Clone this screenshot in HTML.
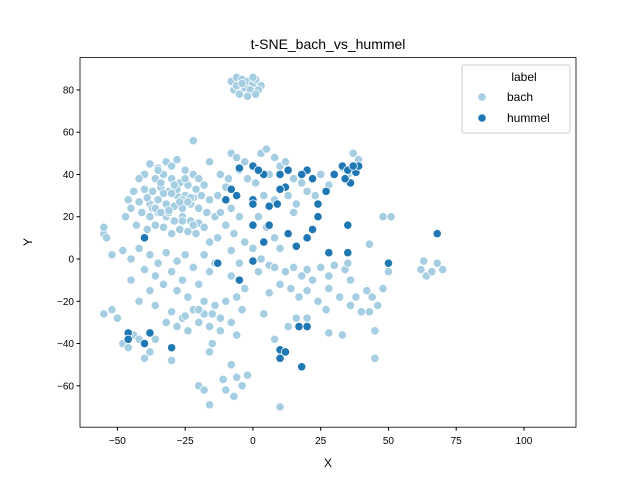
<!DOCTYPE html>
<html><head><meta charset="utf-8"><style>
body{margin:0;background:#fff}
svg{font-family:"Liberation Sans","DejaVu Sans",sans-serif}
</style></head><body>
<svg id="chart" width="640" height="480" xmlns="http://www.w3.org/2000/svg">
<rect width="640" height="480" fill="#fff"/>
<text x="328" y="49" font-size="14" text-anchor="middle">t-SNE_bach_vs_hummel</text>
<g id="points"></g>
<rect x="80" y="57.6" width="496" height="369.6" fill="none" stroke="#000" stroke-width="0.8"/>
<g id="xt"></g>
<g id="yt"></g>
<text x="328" y="467" font-size="12" text-anchor="middle">X</text>
<text x="32" y="242" font-size="12" text-anchor="middle" transform="rotate(-90 32 242)">Y</text>
<g>
<rect x="462" y="65" width="108" height="68" rx="2" fill="#fff" fill-opacity="0.8" stroke="#ccc"/>
<text x="524" y="81" font-size="12" text-anchor="middle">label</text>
<circle cx="482" cy="97" r="4.2" fill="#a6cee3" stroke="#fff" stroke-width="0.8"/>
<text x="507" y="101" font-size="12">bach</text>
<circle cx="482" cy="118" r="4.2" fill="#1f78b4" stroke="#fff" stroke-width="0.8"/>
<text x="507" y="122" font-size="12">hummel</text>
</g>
</svg>
<script>
const xTicks=[-50,-25,0,25,50,75,100];
const yTicks=[-60,-40,-20,0,20,40,60,80];
const bachX=[-8,-6,-4,-2,0,1,3,-7,-5,-3,-1,2,-6,-4,0,-2,1,
-38,-35,-32,-30,-28,-25,-22,-20,-18,-16,-40,-42,-36,-33,-30,-27,-24,-21,-44,-40,-37,-34,-31,-28,-25,-22,-19,-16,-13,-10,-46,-42,-38,-35,-32,-29,-26,-23,-20,-17,-14,-45,-41,-38,-35,-32,-29,-26,-23,-20,-47,-43,-39,-36,-33,-30,-27,-24,-21,-18,-55,-54,-55,-12,-8,-5,-10,-7,-13,-16,-22,-8,-6,-3,0,-12,-9,-5,-2,1,
3,5,8,10,12,6,15,18,20,4,8,13,16,2,5,8,10,0,3,-3,-8,-5,2,6,
-52,-48,-45,-42,-38,-35,-32,-28,-25,-22,-40,-36,-30,-26,-45,-38,-33,-28,-24,-20,-16,-14,-18,-42,-36,-30,-26,-22,-18,-14,-10,-6,-3,-8,-4,-32,-28,-24,-20,-16,-12,-8,-6,-55,-52,-50,-48,-46,-44,-42,-38,-36,-40,-30,-16,-15,-20,-18,-16,-8,-6,-4,-10,-7,-2,-11,10,
8,12,15,18,20,22,25,28,30,34,36,10,14,17,20,24,28,32,6,4,13,16,20,27,28,33,36,38,42,44,46,48,45,45,40,43,8,35,
43,48,51,50,37,39,33,35,23,15,25,28,62,64,66,68,70,63,
-34,-29,-26,-37,-31,-27,-23,-33,-28,-36,-30,-24,-34,-26,-39,-31,-22,-29,-25,-35,-20,-15,-12,-25,-18];
const bachY=[84,86,85,84,83,85,82,80,78,81,80,80,82,83,86,77,78,
45,43,46,44,47,42,40,38,35,46,40,38,38,40,38,36,35,33,32,33,32,34,32,30,30,29,30,28,30,34,28,27,26,28,26,25,24,26,24,22,20,24,22,20,22,20,18,20,18,17,20,16,14,16,15,12,14,13,12,15,12,10,15,22,24,20,16,12,10,8,56,50,48,46,44,40,38,42,38,36,
50,52,48,44,46,40,38,36,32,30,28,30,26,20,15,10,5,5,0,8,4,-2,-6,-3,
2,4,0,5,2,-2,3,-1,2,-4,-5,-8,-6,-10,-10,-15,-12,-15,-18,-12,-6,-2,2,-20,-22,-25,-28,-24,-26,-22,-20,-18,-14,-8,-24,-30,-32,-34,-30,-32,-28,-30,-36,-26,-24,-28,-40,-42,-36,-38,-44,-38,-47,-48,-44,-40,-60,-62,-69,-50,-56,-60,-62,-65,-55,-57,-70,
-4,-6,-4,-8,-5,-10,-4,-8,-3,-5,-10,-12,-14,-18,-15,-20,-14,-18,-16,-26,-32,-28,-28,-24,-35,-36,-22,-18,-15,-18,-22,-14,-34,-47,-25,-25,-38,-2,
7,20,20,-6,50,47,43,40,30,22,40,35,-5,-8,-6,-2,-5,-1,
36,34,28,24,22,27,29,31,33,24,31,27,22,18,29,23,16,35,38,42,-24,-26,-34,-27,-20];
const humX=[-5,0,4,2,-8,-10,-6,10,13,12,6,9,0,0,0,20,22,18,27,24,24,22,20,16,13,28,35,35,33,35,36,38,39,37,34,-40,-46,-46,-40,-30,-38,-5,0,4,6,68,50,17,10,12,10,18,20,10,30,-13];
const humY=[43,44,40,42,33,28,30,40,42,34,25,26,28,26,16,42,38,40,32,26,20,14,10,6,12,3,16,3,44,42,36,41,44,44,38,10,-35,-38,-40,-42,-35,-10,-1,8,16,12,-2,-32,-43,-44,-47,-51,-32,33,40,-2];
const L=80,R=576,T=57.6,B=427.2,xmin=-63.8,xmax=119.2,ymin=-79.6,ymax=95.3;
const sx=v=>L+(v-xmin)/(xmax-xmin)*(R-L);
const sy=v=>B-(v-ymin)/(ymax-ymin)*(B-T);
const NS="http://www.w3.org/2000/svg";
const pts=document.getElementById('points');
function dot(x,y,c,n){const e=document.createElementNS(NS,'circle');
e.setAttribute('cx',sx(x));e.setAttribute('cy',sy(y));e.setAttribute('r',4.2);
e.setAttribute('fill',c);e.setAttribute('stroke','#fff');e.setAttribute('stroke-width','0.8');


pts.appendChild(e);}
bachX.forEach((x,i)=>dot(x,bachY[i],'#a6cee3','point-bach'));
humX.forEach((x,i)=>dot(x,humY[i],'#1f78b4','point-hummel'));
const xt=document.getElementById('xt'),yt=document.getElementById('yt');
xTicks.forEach(v=>{const x=sx(v);
const l=document.createElementNS(NS,'line');l.setAttribute('x1',x);l.setAttribute('x2',x);l.setAttribute('y1',B);l.setAttribute('y2',B+3.5);l.setAttribute('stroke','#000');


xt.appendChild(l);
const t=document.createElementNS(NS,'text');t.setAttribute('x',x);t.setAttribute('y',B+17);t.setAttribute('font-size','10');t.setAttribute('text-anchor','middle');t.textContent=v<0?'\u2212'+(-v):v;


xt.appendChild(t);});
yTicks.forEach(v=>{const y=sy(v);
const l=document.createElementNS(NS,'line');l.setAttribute('x1',L-3.5);l.setAttribute('x2',L);l.setAttribute('y1',y);l.setAttribute('y2',y);l.setAttribute('stroke','#000');


yt.appendChild(l);
const t=document.createElementNS(NS,'text');t.setAttribute('x',L-6);t.setAttribute('y',y+3.5);t.setAttribute('font-size','10');t.setAttribute('text-anchor','end');t.textContent=v<0?'\u2212'+(-v):v;


yt.appendChild(t);});
</script>
</body></html>
